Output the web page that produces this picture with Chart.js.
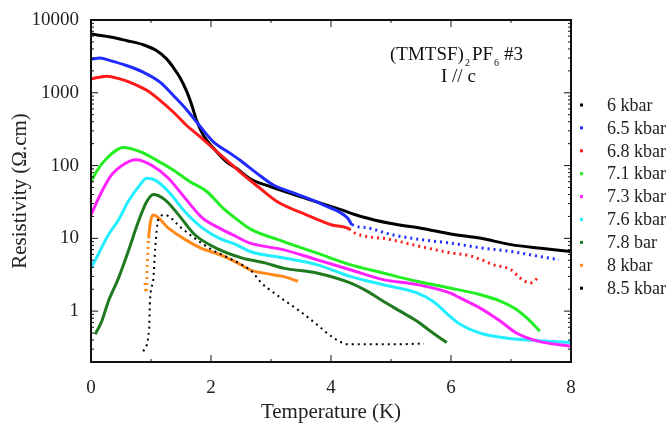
<!DOCTYPE html>
<html>
<head>
<meta charset="utf-8">
<script src="https://cdn.jsdelivr.net/npm/chart.js@4.4.1/dist/chart.umd.min.js"></script>
<style>
  body { margin: 0; background: #fff; }
  canvas { display: block; }
</style>
</head>
<body>
<canvas id="myChart" width="670" height="429"></canvas>
<script>
    // temperature (K) and resistivity (ohm cm), one pair of arrays per pressure
    var t60 = [0.87, 0.97, 0.98, 1.04, 1.07, 1.12, 1.23, 1.51, 1.73, 2.01, 2.29, 2.68, 2.84, 2.94, 3.2, 3.48, 3.76, 4.04, 4.3, 4.7, 5.1, 5.55];
    var r60 = [0.28, 0.59, 1.23, 2.86, 7.3, 18, 21, 13.8, 10, 7.0, 5.4, 3.5, 2.44, 2.08, 1.45, 1.0, 0.66, 0.43, 0.35, 0.35, 0.35, 0.36];

    var t65 = [0, 0.15, 0.32, 0.59, 0.87, 1.15, 1.4, 1.58, 1.8, 2.04, 2.32, 2.48, 2.75, 3.04, 3.45, 3.87, 4.28, 4.35, 4.6, 5.0, 5.5, 6.0, 6.5, 7.0, 7.5, 7.8];
    var r65 = [2900, 3000, 2770, 2370, 1920, 1400, 870, 603, 360, 212, 147, 119, 80, 54, 40, 28.8, 18.9, 15.5, 14, 11.3, 9.6, 8.6, 7.4, 6.6, 5.6, 5.1];

    var t68 = [0, 0.26, 0.48, 0.71, 0.93, 1.15, 1.37, 1.59, 1.82, 2.04, 2.26, 2.48, 2.8, 3.1, 3.59, 4.0, 4.3, 4.35, 5.0, 5.5, 6.0, 6.3, 6.5, 6.7, 7.0, 7.15, 7.32, 7.45];
    var r68 = [1550, 1690, 1550, 1330, 1080, 787, 545, 358, 248, 171, 119, 82, 50, 32, 21, 15.4, 13.5, 12.4, 9.6, 7.7, 6.3, 5.8, 5.1, 4.35, 3.7, 2.86, 2.44, 2.86];

    var t71 = [0, 0.1, 0.26, 0.54, 0.82, 1.09, 1.37, 1.65, 1.93, 2.2, 2.5, 2.65, 3.2, 3.76, 4.32, 4.87, 5.43, 5.98, 6.48, 6.82, 7.09, 7.32, 7.48];
    var r71 = [60, 85, 125, 177, 155, 119, 87, 60, 44, 26, 16.5, 13.5, 9.1, 6.3, 4.35, 3.34, 2.57, 2.08, 1.69, 1.37, 1.05, 0.73, 0.53];

    var t73 = [0, 0.18, 0.34, 0.57, 0.75, 1.01, 1.29, 1.57, 1.86, 2.14, 2.42, 2.65, 3.2, 3.76, 4.32, 4.87, 5.43, 5.98, 6.15, 6.48, 6.82, 7.09, 7.43, 8.0];
    var r73 = [21, 44, 74, 107, 120, 101, 67, 35.5, 18.9, 13.8, 10.6, 8.6, 7.0, 5.1, 3.7, 2.71, 2.32, 1.78, 1.52, 1.11, 0.73, 0.50, 0.39, 0.33];

    var t76 = [0, 0.12, 0.29, 0.46, 0.62, 0.79, 0.93, 1.07, 1.29, 1.57, 1.86, 2.14, 2.42, 2.65, 3.2, 3.76, 4.32, 4.87, 5.43, 5.7, 5.98, 6.15, 6.48, 6.98, 7.53, 8.0];
    var r76 = [3.9, 6.0, 11.2, 18, 32, 51, 67, 63, 44, 23, 13.8, 10, 8.2, 6.6, 5.4, 4.36, 3.0, 2.3, 1.78, 1.37, 0.85, 0.66, 0.50, 0.42, 0.39, 0.37];

    var t78 = [0.07, 0.18, 0.29, 0.46, 0.62, 0.79, 0.93, 1.04, 1.23, 1.46, 1.73, 2.14, 2.51, 2.9, 3.2, 3.76, 4.32, 4.6, 4.87, 5.15, 5.43, 5.7, 5.93];
    var r78 = [0.48, 0.73, 1.37, 2.86, 6.6, 17, 32, 40, 34, 21, 11.2, 7.0, 5.4, 4.6, 3.9, 3.34, 2.44, 1.88, 1.37, 1.0, 0.73, 0.5, 0.37];

    var t80 = [0.9, 0.92, 0.94, 0.96, 1.04, 1.29, 1.57, 1.84, 2.14, 2.4, 2.65, 2.9, 3.2, 3.45];
    var r80 = [2.44, 1.78, 4.8, 10, 21, 13.8, 9.6, 7.3, 6.0, 4.8, 3.7, 3.3, 3.0, 2.57];

    var t85 = [0, 0.3, 0.6, 0.87, 1.09, 1.26, 1.37, 1.48, 1.59, 1.68, 1.76, 1.87, 2.04, 2.26, 2.43, 2.65, 3.0, 3.6, 4.15, 4.5, 5.0, 5.5, 6.0, 6.5, 7.0, 7.5, 8.0];
    var r85 = [6400, 5900, 5200, 4570, 3800, 2920, 2240, 1640, 1070, 676, 417, 263, 174, 112, 91, 66, 51, 35, 25, 20, 16, 13.8, 11.5, 10, 8.2, 7.3, 6.6];

    var seriesLabels = ['6 kbar', '6.5 kbar', '6.8 kbar', '7.1 kbar', '7.3 kbar', '7.6 kbar', '7.8 bar', '8 kbar', '8.5 kbar'];
    var xTickLabels = [0, 2, 4, 6, 8];
    var yTickLabels = [1, 10, 100, 1000, 10000];
//////////////////////////////////////////////////////////////////////////////////////////////////////////////////

    var serif = '"Liberation Serif", "Times New Roman", serif';
    Chart.defaults.font.family = serif;
    Chart.defaults.color = '#222';

    function pairs(t, r) {
        return t.map(function (v, i) { return { x: v, y: r[i] }; });
    }

    // dotted where the measured points get sparse
    function dashFrom(tStart) {
        return function (c) { return c.p0.parsed.x >= tStart ? [2, 4] : undefined; };
    }

    const lineCommon = {
        showLine: true,
        pointRadius: 0,
        pointHoverRadius: 0,
        borderWidth: 3,
        fill: false,
        cubicInterpolationMode: 'monotone',
        pointStyle: 'rect'
    };

    var datasets = [
        Object.assign({}, lineCommon, { data: pairs(t60, r60), borderColor: '#000000', borderWidth: 2, borderDash: [2, 4] }),
        Object.assign({}, lineCommon, { data: pairs(t65, r65), borderColor: '#1f2bff', segment: { borderDash: dashFrom(4.3) } }),
        Object.assign({}, lineCommon, { data: pairs(t68, r68), borderColor: '#ff1a1a', segment: { borderDash: dashFrom(4.3) } }),
        Object.assign({}, lineCommon, { data: pairs(t71, r71), borderColor: '#22ee22' }),
        Object.assign({}, lineCommon, { data: pairs(t73, r73), borderColor: '#ff22ff' }),
        Object.assign({}, lineCommon, { data: pairs(t76, r76), borderColor: '#22eeff' }),
        Object.assign({}, lineCommon, { data: pairs(t78, r78), borderColor: '#1f7a1f' }),
        Object.assign({}, lineCommon, { data: pairs(t80, r80), borderColor: '#ff8a1a', segment: { borderDash: function (c) { return c.p0.parsed.x < 0.95 ? [2, 4] : undefined; } } }),
        Object.assign({}, lineCommon, { data: pairs(t85, r85), borderColor: '#000000' })
    ];
    datasets.forEach(function (d, i) { d.label = seriesLabels[i]; });

    // frame with inward ticks, the sample label and the legend
    const framePlugin = {
        id: 'framePlugin',
        afterDatasetsDraw(chart) {
            const ctx = chart.ctx;
            const a = chart.chartArea;
            const x = chart.scales.x, y = chart.scales.y;
            ctx.save();
            ctx.strokeStyle = '#111';
            ctx.lineWidth = 2;
            ctx.strokeRect(a.left, a.top, a.right - a.left, a.bottom - a.top);

            ctx.lineWidth = 1;
            ctx.beginPath();
            for (let v = 0; v <= 8; v++) {
                const px = x.getPixelForValue(v);
                const len = v % 2 ? 3 : 7;
                ctx.moveTo(px, a.bottom); ctx.lineTo(px, a.bottom - len);
                ctx.moveTo(px, a.top); ctx.lineTo(px, a.top + len);
            }
            for (let d = 0.1; d <= 10000; d *= 10) {
                for (let m = 1; m <= 9; m++) {
                    const v = m * d;
                    if (v < y.min || v > y.max) continue;
                    const py = y.getPixelForValue(v);
                    const len = m === 1 ? 7 : 3;
                    ctx.moveTo(a.left, py); ctx.lineTo(a.left + len, py);
                    ctx.moveTo(a.right, py); ctx.lineTo(a.right - len, py);
                }
            }
            ctx.stroke();

            // sample label
            ctx.fillStyle = '#111';
            ctx.textBaseline = 'alphabetic';
            ctx.textAlign = 'left';
            let tx = 390;
            ctx.font = '19px ' + serif;
            ctx.fillText('(TMTSF)', tx, 60); tx += ctx.measureText('(TMTSF)').width + 1;
            ctx.font = '10px ' + serif;
            ctx.fillText('2', tx, 66); tx += ctx.measureText('2').width + 2;
            ctx.font = '19px ' + serif;
            ctx.fillText('PF', tx, 60); tx += ctx.measureText('PF').width + 1;
            ctx.font = '10px ' + serif;
            ctx.fillText('6', tx, 66); tx += ctx.measureText('6').width + 5;
            ctx.font = '19px ' + serif;
            ctx.fillText('#3', tx, 60);
            ctx.fillText('I // c', 441, 82);

            // legend
            ctx.font = '18px ' + serif;
            ctx.textBaseline = 'middle';
            chart.data.datasets.forEach(function (d, i) {
                const ly = 105 + i * 22.9;
                ctx.fillStyle = d.borderColor;
                ctx.fillRect(580, ly - 1.5, 3, 3);
                ctx.fillStyle = '#222';
                ctx.fillText(d.label, 607, ly + 1);
            });
            ctx.restore();
        }
    };

    var chart = new Chart(document.getElementById('myChart').getContext('2d'), {
        type: 'scatter',
        data: { datasets: datasets },
        plugins: [framePlugin],
        options: {
            responsive: false,
            animation: false,
            layout: { padding: { top: 20, right: 99, bottom: 0, left: 0 } },
            plugins: {
                legend: { display: false },
                tooltip: { enabled: false }
            },
            scales: {
                x: {
                    type: 'linear',
                    position: 'bottom',
                    min: 0,
                    max: 8,
                    afterBuildTicks: function (s) { s.ticks = xTickLabels.map(function (v) { return { value: v }; }); },
                    ticks: { font: { size: 19 }, padding: 7, color: '#222' },
                    grid: { display: false },
                    border: { display: false },
                    title: { display: true, text: 'Temperature (K)', font: { size: 21 }, color: '#222', padding: { top: 0, bottom: 4 } },
                    afterFit: function (s) { s.height = 67; }
                },
                y: {
                    type: 'logarithmic',
                    min: 0.2,
                    max: 10000,
                    afterBuildTicks: function (s) { s.ticks = yTickLabels.map(function (v) { return { value: v }; }); },
                    ticks: {
                        font: { size: 19 },
                        padding: 4,
                        color: '#222',
                        autoSkip: false,
                        callback: function (value) { return String(value); }
                    },
                    grid: { display: false },
                    border: { display: false },
                    title: { display: true, text: 'Resistivity (Ω.cm)', font: { size: 21 }, color: '#222', padding: { top: 8, bottom: 0 } },
                    afterFit: function (s) { s.width = 91; }
                }
            }
        }
    });
</script>
</body>
</html>
